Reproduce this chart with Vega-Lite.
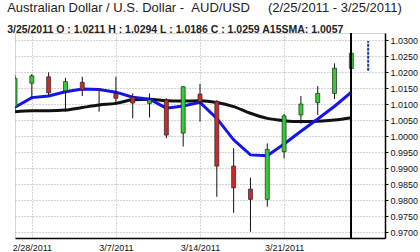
{
  "$schema": "https://vega.github.io/schema/vega-lite/v6.json",
  "autosize": {"type": "none"},
  "padding": {"left": 15, "top": 33, "right": 35, "bottom": 14},
  "width": 370,
  "height": 205,
  "background": "white",
  "config": {
    "view": {"stroke": "#d4d4d4"},
    "font": "Liberation Sans",
    "axisY": {
      "orient": "right",
      "format": ".4f",
      "labelFont": "Liberation Sans",
      "labelFontSize": 9,
      "labelColor": "#111111",
      "labelPadding": 2,
      "labelOverlap": false,
      "tickSize": 3,
      "tickColor": "#000000",
      "domainColor": "#000000",
      "domainWidth": 1.5,
      "grid": true,
      "gridColor": "#a8a8a8",
      "gridDash": [1, 2],
      "gridWidth": 1
    }
  },
  "title": {
    "text": "Australian Dollar / U.S. Dollar -\u00a0\u00a0AUD/USD\u00a0\u00a0\u00a0\u00a0\u00a0(2/25/2011 - 3/25/2011)",
    "subtitle": "3/25/2011 O : 1.0211 H : 1.0294 L : 1.0186 C : 1.0259 A15SMA: 1.0057",
    "anchor": "start",
    "dx": -5,
    "offset": -3,
    "font": "Liberation Sans",
    "fontSize": 13,
    "fontWeight": "normal",
    "color": "#222222",
    "subtitleFont": "Liberation Sans",
    "subtitleFontSize": 10.5,
    "subtitleFontWeight": "bold",
    "subtitleColor": "#222222",
    "subtitlePadding": 10
  },
  "data": {
    "values": [
      {"date": "2/25/2011", "open": 1.0092, "high": 1.0190, "low": 1.0080, "close": 1.0180, "ma": 1.0090, "sma15": 1.0076},
      {"date": "2/28/2011", "open": 1.0165, "high": 1.0194, "low": 1.0119, "close": 1.0188, "ma": 1.0120, "sma15": 1.0079},
      {"date": "3/1/2011", "open": 1.0185, "high": 1.0199, "low": 1.0128, "close": 1.0135, "ma": 1.0125, "sma15": 1.0079},
      {"date": "3/2/2011", "open": 1.0141, "high": 1.0182, "low": 1.0076, "close": 1.0170, "ma": 1.0138, "sma15": 1.0081},
      {"date": "3/3/2011", "open": 1.0168, "high": 1.0185, "low": 1.0125, "close": 1.0144, "ma": 1.0147, "sma15": 1.0089},
      {"date": "3/4/2011", "open": 1.0147, "high": 1.0149, "low": 1.0076, "close": 1.0143, "ma": 1.0145, "sma15": 1.0097},
      {"date": "3/7/2011", "open": 1.0133, "high": 1.0185, "low": 1.0097, "close": 1.0118, "ma": 1.0137, "sma15": 1.0102},
      {"date": "3/8/2011", "open": 1.0122, "high": 1.0133, "low": 1.0055, "close": 1.0103, "ma": 1.0121, "sma15": 1.0113},
      {"date": "3/9/2011", "open": 1.0102, "high": 1.0133, "low": 1.0058, "close": 1.0113, "ma": 1.0115, "sma15": 1.0115},
      {"date": "3/10/2011", "open": 1.0113, "high": 1.0118, "low": 0.9993, "close": 1.0003, "ma": 1.0087, "sma15": 1.0110},
      {"date": "3/11/2011", "open": 1.0009, "high": 1.0156, "low": 0.9967, "close": 1.0154, "ma": 1.0094, "sma15": 1.0109},
      {"date": "3/14/2011", "open": 1.0131, "high": 1.0163, "low": 1.0045, "close": 1.0107, "ma": 1.0105, "sma15": 1.0110},
      {"date": "3/15/2011", "open": 1.0108, "high": 1.0112, "low": 0.9810, "close": 0.9906, "ma": 1.0055, "sma15": 1.0105},
      {"date": "3/16/2011", "open": 0.9906, "high": 0.9962, "low": 0.9760, "close": 0.9838, "ma": 0.9988, "sma15": 1.0092},
      {"date": "3/17/2011", "open": 0.9834, "high": 0.9870, "low": 0.9701, "close": 0.9802, "ma": 0.9941, "sma15": 1.0071},
      {"date": "3/18/2011", "open": 0.9802, "high": 0.9977, "low": 0.9779, "close": 0.9958, "ma": 0.9938, "sma15": 1.0055},
      {"date": "3/21/2011", "open": 0.9951, "high": 1.0069, "low": 0.9930, "close": 1.0063, "ma": 0.9975, "sma15": 1.0048},
      {"date": "3/22/2011", "open": 1.0066, "high": 1.0125, "low": 1.0038, "close": 1.0100, "ma": 1.0015, "sma15": 1.0045},
      {"date": "3/23/2011", "open": 1.0104, "high": 1.0156, "low": 1.0066, "close": 1.0133, "ma": 1.0053, "sma15": 1.0046},
      {"date": "3/24/2011", "open": 1.0133, "high": 1.0227, "low": 1.0115, "close": 1.0212, "ma": 1.0093, "sma15": 1.0050},
      {"date": "3/25/2011", "open": 1.0211, "high": 1.0294, "low": 1.0186, "close": 1.0259, "ma": 1.0137, "sma15": 1.0057}
    ]
  },
  "encoding": {
    "x": {
      "field": "date",
      "type": "ordinal",
      "title": null,
      "scale": {
        "type": "point",
        "padding": 0,
        "domain": ["2/25/2011", "2/28/2011", "3/1/2011", "3/2/2011", "3/3/2011", "3/4/2011", "3/7/2011", "3/8/2011", "3/9/2011", "3/10/2011", "3/11/2011", "3/14/2011", "3/15/2011", "3/16/2011", "3/17/2011", "3/18/2011", "3/21/2011", "3/22/2011", "3/23/2011", "3/24/2011", "3/25/2011", "3/28/2011", "3/29/2011"]
      },
      "axis": {
        "values": ["2/28/2011", "3/7/2011", "3/14/2011", "3/21/2011"],
        "labelAngle": 0,
        "labelFont": "Liberation Sans",
        "labelFontSize": 9,
        "labelColor": "#111111",
        "labelPadding": 5,
        "labelOverlap": false,
        "ticks": false,
        "domainColor": "#000000",
        "domainWidth": 1.5,
        "grid": true,
        "gridColor": "#a8a8a8",
        "gridDash": [1, 2],
        "gridWidth": 1
      }
    }
  },
  "layer": [
    {
      "mark": {"type": "line", "color": "#111111", "strokeWidth": 3, "interpolate": "monotone", "clip": true},
      "encoding": {
        "y": {
          "field": "sma15",
          "type": "quantitative",
          "title": null,
          "scale": {"domain": [0.968125, 1.0321875], "nice": false, "zero": false},
          "axis": {"values": [0.97, 0.975, 0.98, 0.985, 0.99, 0.995, 1.0, 1.005, 1.01, 1.015, 1.02, 1.025, 1.03]}
        }
      }
    },
    {
      "mark": {"type": "line", "color": "#1414ee", "strokeWidth": 3, "clip": true},
      "encoding": {"y": {"field": "ma", "type": "quantitative", "title": null, "axis": {"values": [0.97, 0.975, 0.98, 0.985, 0.99, 0.995, 1.0, 1.005, 1.01, 1.015, 1.02, 1.025, 1.03]}}}
    },
    {
      "mark": {"type": "rule", "color": "#111111", "strokeWidth": 1, "clip": true},
      "encoding": {
        "y": {"field": "low", "type": "quantitative", "title": null, "axis": {"values": [0.97, 0.975, 0.98, 0.985, 0.99, 0.995, 1.0, 1.005, 1.01, 1.015, 1.02, 1.025, 1.03]}},
        "y2": {"field": "high"}
      }
    },
    {
      "mark": {"type": "bar", "size": 4, "stroke": "#222222", "strokeWidth": 0.7, "clip": true},
      "encoding": {
        "y": {"field": "open", "type": "quantitative", "title": null, "axis": {"values": [0.97, 0.975, 0.98, 0.985, 0.99, 0.995, 1.0, 1.005, 1.01, 1.015, 1.02, 1.025, 1.03]}},
        "y2": {"field": "close"},
        "fill": {
          "condition": {"test": "datum.close >= datum.open", "value": "#33cc33"},
          "value": "#cc2a2a"
        }
      }
    },
    {
      "mark": {"type": "rule", "color": "#000000", "strokeWidth": 1},
      "encoding": {"x": {"datum": "3/25/2011", "type": "ordinal"}}
    },
    {
      "data": {"values": [{"date": "3/28/2011", "lo": 1.0204, "hi": 1.0297}]},
      "mark": {"type": "rule", "color": "#1f3d99", "strokeWidth": 2, "strokeDash": [3, 1]},
      "encoding": {
        "y": {"field": "lo", "type": "quantitative", "title": null, "axis": {"values": [0.97, 0.975, 0.98, 0.985, 0.99, 0.995, 1.0, 1.005, 1.01, 1.015, 1.02, 1.025, 1.03]}},
        "y2": {"field": "hi"}
      }
    }
  ]
}
